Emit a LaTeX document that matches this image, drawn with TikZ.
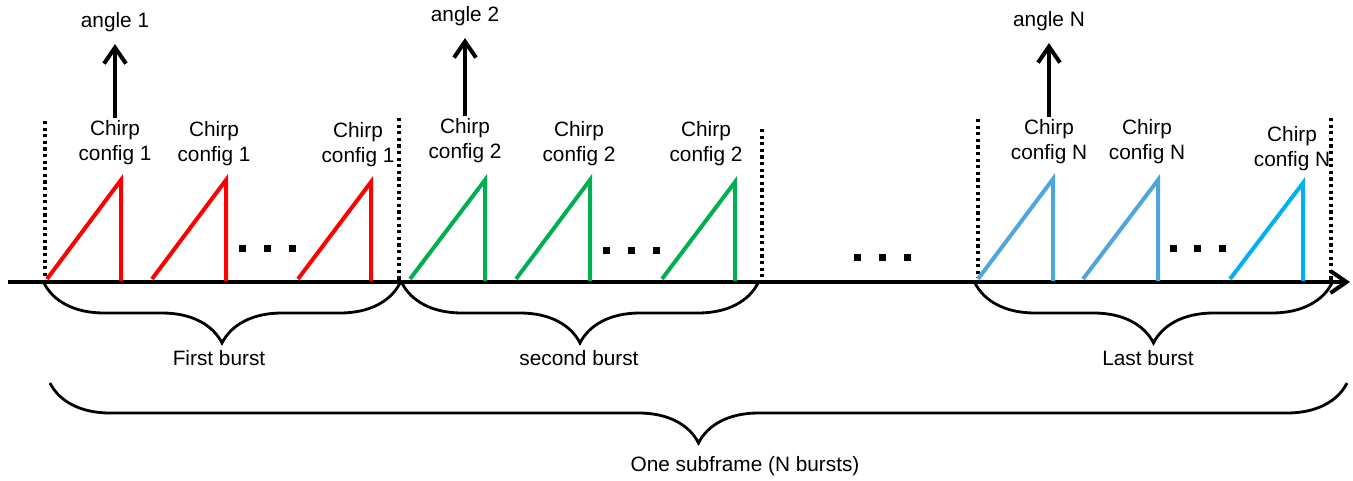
\documentclass[tikz,border=0pt]{standalone}
\usepackage{fontspec}
\setmainfont{Liberation Sans}
\usetikzlibrary{arrows.meta,decorations.pathreplacing}
\definecolor{chirpred}{RGB}{255,0,0}
\definecolor{chirpgreen}{RGB}{0,176,80}
\definecolor{chirpblue}{RGB}{78,166,220}
\definecolor{chirpcyan}{RGB}{0,176,240}

\begin{document}
\begin{tikzpicture}[x=0.5pt,y=-0.5pt,
	every node/.style={font=\fontsize{10.4}{12.5}\selectfont,align=center,inner sep=1pt},
	chirp/.style={line width=2pt},
	border/.style={line width=2.2pt,dash pattern=on 1.6pt off 1.7pt},
	brace/.style={line width=1.4pt,decorate,decoration={brace,amplitude=30pt,mirror}},
	pil/.style={line width=2pt,-{Straight Barb[length=8pt,width=11pt]}}]
	\useasboundingbox (0,0) rectangle (1353,481);
	%\draw[help lines,step=50] (0,0) grid (1353,481);
	
	% time axis
	\draw[pil] (8,282) -- (1350,282);
	% burst borders
	\foreach \x/\a/\b in {45/121/278,399/118/281,762/129/286,978/119/278,1331/118/280}
		\draw[border] (\x,\a) -- (\x,\b);
	% chirps
	\foreach \s/\t/\h/\c in {47/121/180/chirpred,152/226/180/chirpred,298/371/182/chirpred,
		410/485/180/chirpgreen,516/590/180/chirpgreen,662/735/182/chirpgreen,
		978/1053/179/chirpblue,1083/1158/180/chirpblue,1230/1303/183/chirpcyan}
		\draw[chirp,\c] (\s,279) -- (\t,\h) -- (\t,281);
	% dots
	\foreach \x/\y in {242/248,267/248,292/248,606/250,631/250,656/250,
		857/257,882/257,907/257,1173/248,1197/248,1222/248}
		\fill (\x-3.5,\y-3.5) rectangle ++(7,7);
	
	% chirp labels
	\node (c11) at (115,143) {Chirp\\config 1};
	\node (c12) at (214,144) {Chirp\\config 1};
	\node (c13) at (358,145) {Chirp\\config 1};
	\node (c21) at (465,141) {Chirp\\config 2};
	\node (c22) at (579,144) {Chirp\\config 2};
	\node (c23) at (706,144) {Chirp\\config 2};
	\node (cN1) at (1049,142) {Chirp\\config N};
	\node (cN2) at (1147,142) {Chirp\\config N};
	\node (cN3) at (1292,149) {Chirp\\config N};
	
	% angles
	\node (ang1) at (115,22) {angle 1};
	\node (ang2) at (465,16) {angle 2};
	\node (angN) at (1049,21) {angle N};
	\draw[pil,shorten >=5pt] (c11) -- (ang1);
	\draw[pil,shorten >=5pt] (c21) -- (ang2);
	\draw[pil,shorten >=5pt] (cN1) -- (angN);
	
	% bursts
	\draw[brace] (44,283) -- (400,283);
	\draw[brace] (402,283) -- (758,283);
	\draw[brace] (975,283) -- (1332,283);
	\draw[brace] (50,383) -- (1347,383);
	\node (b1) at (219,358) {First burst};
	\node (b2) at (579,358) {second burst};
	\node (bN) at (1148,358) {Last burst};
	\node (sub) at (745,466) {One subframe (N bursts)};
\end{tikzpicture}
\end{document}
